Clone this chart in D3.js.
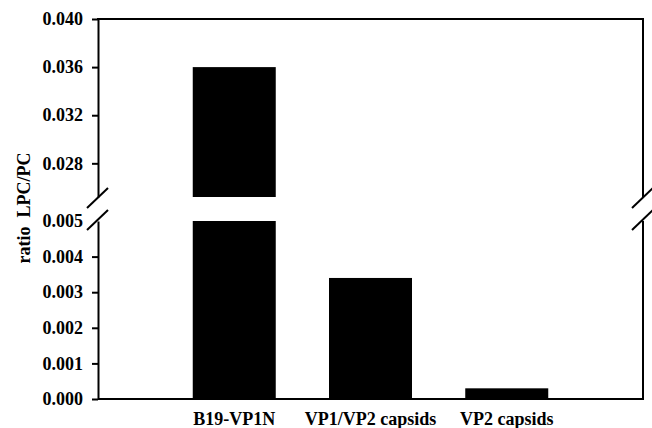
<!DOCTYPE html>
<html>
<head>
<script src="https://cdnjs.cloudflare.com/ajax/libs/d3/7.8.5/d3.min.js"></script>
<style>
body { margin: 0; background: #fff; }
text { font-family: "Liberation Serif", "Times New Roman", serif; font-weight: bold; }
</style>
</head>
<body>
<script>
// data
var categories = ["B19-VP1N", "VP1/VP2 capsids", "VP2 capsids"];
var ratios = [0.036, 0.0034, 0.0003];
var upperTicks = [0.028, 0.032, 0.036, 0.040];
var lowerTicks = [0.000, 0.001, 0.002, 0.003, 0.004, 0.005];

var width = 652, height = 428;
var plotLeft = 98, plotRight = 643, plotTop = 19, plotBottom = 399;
var breakTop = 197, breakBottom = 221;

var svg = d3.select("body").append("svg")
    .attr("width", width)
    .attr("height", height);

var x = d3.scalePoint().domain(categories).range([plotLeft, plotRight]).padding(1);
var barW = 83;

var yUp = d3.scaleLinear().domain([0.0252, 0.040]).range([breakTop, plotTop]);
var yLow = d3.scaleLinear().domain([0, 0.005]).range([plotBottom, breakBottom]).clamp(true);

// bars, lower segment
svg.selectAll("rect.low").data(ratios).enter().append("rect")
    .attr("class", "low")
    .attr("x", function(d, i) { return x(categories[i]) - barW / 2; })
    .attr("width", barW)
    .attr("y", function(d) { return yLow(d); })
    .attr("height", function(d) { return plotBottom - yLow(d); })
    .attr("fill", "#000");

// bars, upper segment (only values above the break)
svg.selectAll("rect.up").data(ratios.filter(function(d) { return d > yUp.domain()[0]; })).enter().append("rect")
    .attr("class", "up")
    .attr("x", function(d) { return x(categories[ratios.indexOf(d)]) - barW / 2; })
    .attr("width", barW)
    .attr("y", function(d) { return yUp(d); })
    .attr("height", function(d) { return breakTop - yUp(d); })
    .attr("fill", "#000");

// axes
var fmt = d3.format(".3f");
var axUp = svg.append("g").attr("transform", "translate(" + plotLeft + ",0)")
    .call(d3.axisLeft(yUp).tickValues(upperTicks).tickFormat(fmt).tickSize(6).tickSizeOuter(0).tickPadding(9));
var axLow = svg.append("g").attr("transform", "translate(" + plotLeft + ",0)")
    .call(d3.axisLeft(yLow).tickValues(lowerTicks).tickFormat(fmt).tickSize(6).tickSizeOuter(0).tickPadding(9));
[axUp, axLow].forEach(function(a) {
  a.selectAll("path, line").attr("stroke", "#000").attr("stroke-width", 2);
  a.selectAll("text").attr("font-size", 18).attr("fill", "#000")
    .attr("font-family", "Liberation Serif").attr("font-weight", "bold");
});
axLow.selectAll(".tick").filter(function(d) { return d === 0.005; }).select("line").remove();

// frame
var frame = svg.append("g").attr("stroke", "#000").attr("stroke-width", 2).attr("fill", "none");
frame.append("line").attr("x1", plotLeft - 1).attr("x2", plotRight + 1).attr("y1", plotTop).attr("y2", plotTop);
frame.append("line").attr("x1", plotLeft).attr("x2", plotRight + 1).attr("y1", plotBottom).attr("y2", plotBottom);
frame.append("line").attr("x1", plotRight).attr("x2", plotRight).attr("y1", plotTop).attr("y2", breakTop);
frame.append("line").attr("x1", plotRight).attr("x2", plotRight).attr("y1", breakBottom).attr("y2", plotBottom);

// break marks
[plotLeft, plotRight].forEach(function(cx) {
  [breakTop + 1, breakBottom - 1].forEach(function(cy) {
    frame.append("line")
      .attr("x1", cx - 11).attr("y1", cy + 10)
      .attr("x2", cx + 10).attr("y2", cy - 10);
  });
});

// x labels
svg.selectAll("text.xl").data(categories).enter().append("text")
    .attr("class", "xl")
    .attr("x", function(d) { return x(d); })
    .attr("y", 425)
    .attr("text-anchor", "middle")
    .attr("font-size", 18)
    .text(function(d) { return d; });

// y label
svg.append("text")
    .attr("transform", "translate(30,208) rotate(-90)")
    .attr("text-anchor", "middle")
    .attr("font-size", 18)
    .attr("xml:space", "preserve")
    .style("white-space", "pre")
    .text("ratio  LPC/PC");
</script>
</body>
</html>
